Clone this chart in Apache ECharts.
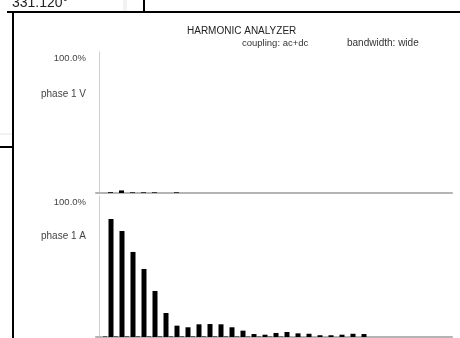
<!DOCTYPE html>
<html><head><meta charset="utf-8">
<script src="https://cdn.jsdelivr.net/npm/echarts@6/dist/echarts.min.js"></script>
<style>html,body{margin:0;padding:0;background:#fff}#c{width:460px;height:338px}</style>
</head><body><div id="c"></div>
<script>
// Harmonic orders shown
var harmonics = [1,2,3,4,5,6,7,8,9,10,11,12,13,14,15,16,17,18,19,20,21,22,23,24];
// phase 1 V harmonic levels (% of scale)
var voltageValues = [0.6,1.9,0.5,0.5,0.5,0,0.5,0,0,0,0,0,0,0,0,0,0,0,0,0,0,0,0,0];
// phase 1 A harmonic levels (% of scale)
var currentValues = [87.4,78.5,63.0,50.4,34.1,17.8,8.4,7.2,9.4,9.6,9.4,7.2,4.7,2.2,1.7,3.0,3.7,2.7,2.4,1.3,1.3,1.7,2.4,2.2];
// interharmonic positions and levels (phase 1 A)
var interPositions = [0.5,1.5,2.5,3.5,4.5,5.5,6.5,7.5,8.5,9.5,10.5,11.5,12.5,13.5,14.5,15.5,16.5];
var interValues = [0.7,0.7,0.7,0.7,0.7,0.7,0.7,0.7,0.7,0.7,0.7,0.7,0.6,0.5,0.5,0.5,0.5];
var panelNames = ['phase 1 V','phase 1 A'];
var scaleLabel = '100.0%';
var titleText = 'HARMONIC ANALYZER';
var couplingText = 'coupling: ac+dc';
var bandwidthText = 'bandwidth: wide';
var angleText = '331.120°';

function pairs(xs, ys){ return xs.map(function(x,i){ return [x, ys[i]]; }); }

var FONT = 'Liberation Sans, Arial, sans-serif';
var xMin = -0.318, xMax = 32.045, yMax = 104.44;

function xAx(gi){
  return {gridIndex:gi,type:'value',min:xMin,max:xMax,
    axisLine:{show:true,onZero:false,lineStyle:{color:'#b4b4b4',width:2}},
    axisTick:{show:false},axisLabel:{show:false},splitLine:{show:false}};
}
function yAx(gi){
  return {gridIndex:gi,type:'value',min:0,max:yMax,interval:100,
    axisLine:{show:true,lineStyle:{color:'#cfcfcf',width:1}},
    axisTick:{show:false},splitLine:{show:false},
    axisLabel:{show:true,margin:10,color:'#444',fontSize:9.5,fontFamily:FONT,
      showMaxLabel:false,
      formatter:function(v){ return v===100 ? scaleLabel : ''; }}};
}

var chart = echarts.init(document.getElementById('c'), null, {renderer:'canvas'});
chart.setOption({
  animation:false,
  backgroundColor:'#fff',
  grid:[{left:96,right:8,top:52,height:141},{left:96,right:8,top:196,height:141}],
  xAxis:[xAx(0),xAx(1)],
  yAxis:[yAx(0),yAx(1)],
  series:[
    {type:'bar',xAxisIndex:0,yAxisIndex:0,barWidth:5,barGap:'-100%',itemStyle:{color:'#000'},data:pairs(harmonics,voltageValues)},
    {type:'bar',xAxisIndex:1,yAxisIndex:1,barWidth:5,barGap:'-100%',itemStyle:{color:'#000'},data:pairs(harmonics,currentValues)},
    {type:'bar',xAxisIndex:1,yAxisIndex:1,barWidth:4,barGap:'-100%',itemStyle:{color:'#555'},data:pairs(interPositions,interValues)}
  ],
  graphic:[
    {type:'rect',shape:{x:123,y:0,width:4,height:12},style:{fill:'#f2f2f2'},silent:true},
    {type:'line',shape:{x1:0,y1:134,x2:12,y2:134},style:{stroke:'#e6e6e6',lineWidth:1},silent:true},
    {type:'text',left:12,top:-4,style:{text:angleText,font:'14px '+FONT,fill:'#222'},silent:true},
    {type:'line',shape:{x1:7,y1:12,x2:460,y2:12},style:{stroke:'#000',lineWidth:2},silent:true},
    {type:'line',shape:{x1:13,y1:12,x2:13,y2:338},style:{stroke:'#000',lineWidth:2},silent:true},
    {type:'line',shape:{x1:144,y1:0,x2:144,y2:12},style:{stroke:'#000',lineWidth:2},silent:true},
    {type:'line',shape:{x1:0,y1:147,x2:12,y2:147},style:{stroke:'#000',lineWidth:2},silent:true},
    {type:'text',left:187,top:26,style:{text:titleText,font:'10px '+FONT,fill:'#222'},silent:true},
    {type:'text',left:242,top:38,style:{text:couplingText,font:'9.5px '+FONT,fill:'#333'},silent:true},
    {type:'text',left:347,top:38,style:{text:bandwidthText,font:'10px '+FONT,fill:'#333'},silent:true},
    {type:'text',right:374,top:89,style:{text:panelNames[0],font:'10px '+FONT,fill:'#444'},silent:true},
    {type:'text',right:374,top:231,style:{text:panelNames[1],font:'10px '+FONT,fill:'#444'},silent:true}
  ]
});
</script></body></html>
